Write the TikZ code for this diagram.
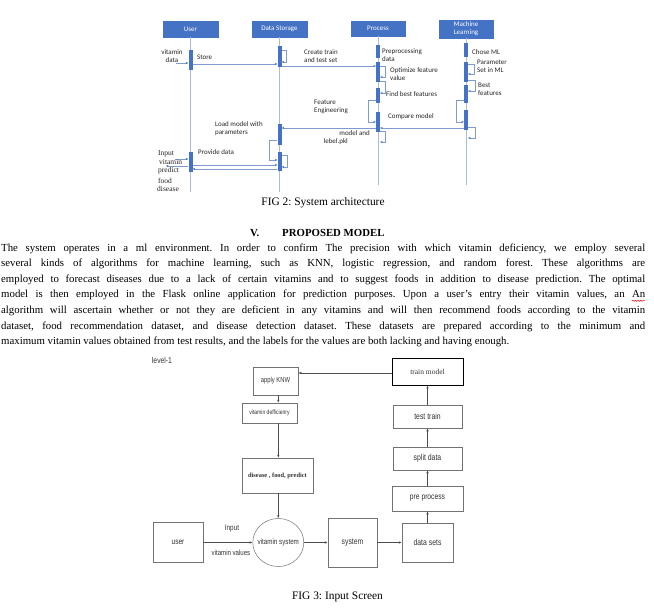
\documentclass[tikz,border=0pt]{standalone}
\usepackage{fontspec}
\setmainfont{Liberation Serif}
\newfontfamily\calfont{Carlito}
\newfontfamily\narfont[FakeStretch=0.8]{Liberation Sans}
\usetikzlibrary{arrows.meta,shapes.geometric,decorations.pathmorphing}
\definecolor{ofblue}{HTML}{4472C4}
\definecolor{lifec}{HTML}{A9BCDD}
\definecolor{arrc}{HTML}{7F9BD0}
\frenchspacing
\begin{document}
\begin{tikzpicture}[x=1pt,y=-1pt,
  hdr/.style={fill=ofblue, draw=ofblue, text=white, font=\calfont\fontsize{7}{8}\selectfont, inner sep=0, align=center, rectangle},
  bar/.style={fill=ofblue, draw=none, minimum width=4pt, inner sep=0, rectangle},
  life/.style={draw=lifec, line width=0.6pt},
  msg/.style={draw=arrc, line width=0.5pt, -{Stealth[length=2.5pt,width=2.2pt,color=ofblue]}},
  lab/.style={font=\calfont\fontsize{7}{8}\selectfont, align=left, inner sep=0, anchor=west, text=black!85},
  slab/.style={font=\fontsize{7.5}{8}\selectfont, inner sep=0, anchor=west, text=black!85},
  fbox/.style={draw=black!55, line width=0.5pt, rectangle, inner sep=0, text=black!80, font=\narfont\fontsize{8.5}{9}\selectfont},
  farr/.style={draw=black!70, line width=0.5pt, -{Latex[length=3pt,width=2.4pt]}},
  ftxt/.style={inner sep=0, text=black!80, font=\narfont\fontsize{8.5}{9}\selectfont},
  body/.style={anchor=base west, inner sep=0, font=\fontsize{10.8}{13}\selectfont},
  captxt/.style={inner sep=0, font=\fontsize{11.4}{13}\selectfont}
]
\fill[white] (0,0) rectangle (654,611);
\useasboundingbox (0,0) rectangle (654,611);

% ---------------- FIG 2: sequence diagram ----------------
\node[hdr, minimum width=55pt, minimum height=16pt] (hu) at (190.5,29) {User};
\node[hdr, minimum width=55pt, minimum height=16pt] (hd) at (279.5,29) {Data Storage};
\node[hdr, minimum width=54pt, minimum height=15pt] (hp) at (378,28.5) {Process};
\node[hdr, minimum width=54pt, minimum height=18pt] (hm) at (466,29) {Machine\\Learning};

\coordinate (eu) at (190.5,192);
\coordinate (ed) at (279.5,192);
\coordinate (ep) at (378,185);
\coordinate (em) at (466,185);
\draw[life] (hu.south) -- (eu);
\draw[life] (hd.south) -- (ed);
\draw[life] (hp.south) -- (ep);
\draw[life] (hm.south) -- (em);

\node[bar, minimum height=20pt] (uA) at (190.5,60) {};
\node[bar, minimum height=20pt] (uB) at (190.5,162) {};
\node[bar, minimum height=21pt] (dA) at (279.5,56.5) {};
\node[bar, minimum height=21pt] (dB) at (279.5,134.5) {};
\node[bar, minimum height=19pt] (dC) at (279.5,161.5) {};
\node[bar, minimum height=13pt] (pA) at (378,51.5) {};
\node[bar, minimum height=20pt] (pB) at (378,72) {};
\node[bar, minimum height=15pt] (pC) at (378,95.5) {};
\node[bar, minimum height=20pt] (pD) at (378,122) {};
\node[bar, minimum height=14pt] (mA) at (466,50) {};
\node[bar, minimum height=20pt] (mB) at (466,72) {};
\node[bar, minimum height=18pt] (mC) at (466,94) {};
\node[bar, minimum height=20pt] (mD) at (466,120) {};

\coordinate (vdin) at (176,63);
\draw[msg] (vdin) -- (uA.west |- vdin);
\draw[msg] (uA.east |- 0,64) -- (dA.west |- 0,64);
\draw[msg] (dA.east |- 0,50) -- ++(5,0) |- (dA.east |- 0,62);
\draw[msg] (dA.east |- 0,66) -- (pB.west |- 0,66);
\draw[msg] (pB.east |- 0,66) -- ++(5,0) |- (pB.east |- 0,77);
\draw[msg] (pB.east |- 0,81) -- ++(5,0) |- (pC.east |- 0,93);
\draw[msg] (mB.east |- 0,64) -- ++(6,0) |- (mB.east |- 0,74);
\draw[msg] (mB.east |- 0,80) -- ++(7,0) |- (mC.east |- 0,91);
\draw[msg] (mC.west |- 0,100) -- ++(-8,0) |- (mD.west |- 0,122);
\draw[msg] (pC.west |- 0,100) -- ++(-8,0) |- (pD.west |- 0,122);
\draw[msg] (mD.west |- 0,128) -- (pD.east |- 0,128);
\draw[msg] (mD.east |- 0,127) -- ++(7,0) |- (mD.east |- 0,138);
\draw[msg] (pD.east |- 0,131) -- ++(5,0) |- (pD.east |- 0,142);
\draw[msg] (pD.west |- 0,128) -- (dB.east |- 0,128);
\draw[msg] (dB.west |- 0,140) -- ++(-8,0) |- (dC.west |- 0,160);
\draw[msg] (dC.east |- 0,155) -- ++(6,0) |- (dC.east |- 0,167);
\draw[msg] (uB.east |- 0,165) -- (dC.west |- 0,165);
\draw[msg] (dC.west |- 0,169) -- (uB.east |- 0,169);
\coordinate (inpS) at (175,159);
\draw[msg] (inpS) -- (uB.west |- inpS);
\coordinate (predE) at (166,166);
\draw[msg] (uB.west |- predE) -- (predE);

\node[lab, anchor=center, align=center] (t1) at (172,56) {vitamin\\data};
\node[lab] (t2) at (197,57) {Store};
\node[lab] (t3) at (304,56) {Create train\\and test set};
\node[lab] (t4) at (382,55) {Preprocessing\\data};
\node[lab] (t5) at (390,74) {Optimize feature\\value};
\node[lab] (t6) at (386,94) {Find best features};
\node[lab] (t7) at (472,52) {Chose ML};
\node[lab] (t8) at (477,66) {Parameter\\Set in ML};
\node[lab] (t9) at (478,89) {Best\\features};
\node[lab] (t10) at (314,107) {Feature\\Engineering};
\node[lab] (t11) at (388,117) {Compare model};
\node[lab] (t12) at (215,129) {Load model with\\parameters};
\node[lab, anchor=east] (t13) at (370,133) {model and};
\node[lab, anchor=east] (t14) at (348,142) {lebel.pkl};
\node[lab] (t15) at (198,152) {Provide data};
\node[slab] (s1) at (158,154) {Input};
\node[slab] (s2) at (159,162) {vitamin};
\node[slab] (s3) at (158,171) {predict};
\node[slab] (s4) at (158,181) {food};
\node[slab] (s5) at (157,189) {disease};

\node[captxt] (cap2) at (323,203) {FIG 2: System architecture};

% ---------------- Section text ----------------
\node[body, font=\bfseries\fontsize{10.8}{13}\selectfont] (hV) at (250,236) {V.};
\node[body, font=\bfseries\fontsize{10.8}{13}\selectfont] (hT) at (282,236) {PROPOSED MODEL};
\node[body] (l1) at (1,251) {\makebox[644pt][s]{The system operates in a ml environment. In order to confirm The precision with which vitamin deficiency, we employ several}};
\node[body] (l2) at (1,266.6) {\makebox[644pt][s]{several kinds of algorithms for machine learning, such as KNN, logistic regression, and random forest. These algorithms are}};
\node[body] (l3) at (1,282.2) {\makebox[644pt][s]{employed to forecast diseases due to a lack of certain vitamins and to suggest foods in addition to disease prediction. The optimal}};
\node[body] (l4) at (1,297.8) {\makebox[644pt][s]{model is then employed in the Flask online application for prediction purposes. Upon a user's entry their vitamin values, an An}};
\node[body] (l5) at (1,313.4) {\makebox[644pt][s]{algorithm will ascertain whether or not they are deficient in any vitamins and will then recommend foods according to the vitamin}};
\node[body] (l6) at (1,329) {\makebox[644pt][s]{dataset, food recommendation dataset, and disease detection dataset. These datasets are prepared according to the minimum and}};
\node[body] (l7) at (1,344.6) {maximum vitamin values obtained from test results, and the labels for the values are both lacking and having enough.};
\coordinate (sqa) at (632,300.8);
\coordinate (sqb) at (645,300.8);
\draw[red, line width=0.5pt, decorate, decoration={snake, amplitude=0.6pt, segment length=2.6pt}] (sqa) -- (sqb);

% ---------------- FIG 3: flow chart ----------------
\node[ftxt] (lvl) at (162,360) {level-1};
\node[fbox, minimum width=45pt, minimum height=28pt, font=\narfont\fontsize{7.3}{8}\selectfont] (knw) at (275.5,381) {apply KNW};
\node[fbox, draw=black, line width=0.8pt, minimum width=71pt, minimum height=27pt, font=\fontsize{7.5}{8}\selectfont] (train) at (427.5,371.5) {train model};
\node[fbox, minimum width=55pt, minimum height=20pt, font=\narfont\fontsize{6.3}{7}\selectfont] (vd) at (269.5,413) {vitamin defficienry};
\node[fbox, minimum width=71pt, minimum height=35pt, font=\bfseries\fontsize{6.4}{7}\selectfont] (dis) at (277.5,475.5) {disease , food, predict};
\node[fbox, ellipse, minimum width=51pt, minimum height=48pt, font=\narfont\fontsize{7.8}{8}\selectfont] (vs) at (278.3,542.5) {\makebox[0pt]{vitamin system}};
\node[fbox, minimum width=50pt, minimum height=40pt, font=\narfont\fontsize{8.2}{9}\selectfont] (user) at (178,542.5) {user};
\node[fbox, minimum width=49pt, minimum height=49pt] (sys) at (352.5,542.5) {system};
\node[fbox, minimum width=51pt, minimum height=39pt, font=\narfont\fontsize{8.6}{10}\selectfont] (ds) at (427.5,542.5) {data sets};
\node[fbox, minimum width=71pt, minimum height=25pt, font=\narfont\fontsize{8.4}{10}\selectfont] (pp) at (427.5,498.5) {pre process};
\node[fbox, minimum width=69pt, minimum height=23pt, font=\narfont\fontsize{8.6}{10}\selectfont] (sd) at (427.5,458.5) {split data};
\node[fbox, minimum width=69pt, minimum height=23pt, font=\narfont\fontsize{8.6}{10}\selectfont] (tt) at (427.5,416.5) {test train};
\node[ftxt, font=\narfont\fontsize{7.9}{9}\selectfont] (inp) at (232,529) {Input};
\node[ftxt, font=\narfont\fontsize{7.6}{9}\selectfont] (vv) at (231,553) {vitamin values};

\draw[farr] (train.west |- 0,373) -- (knw.east |- 0,373);
\draw[farr] (knw.south -| vs.center) -- (vd.north -| vs.center);
\draw[farr] (vd.south -| vs.center) -- (dis.north -| vs.center);
\draw[farr] (dis.south -| vs.center) -- (vs.north);
\draw[farr] (user.east) -- (vs.west);
\draw[farr] (vs.east) -- (sys.west);
\draw[farr] (sys.east) -- (ds.west);
\draw[farr] (ds.north) -- (pp.south);
\draw[farr] (pp.north) -- (sd.south);
\draw[farr] (sd.north) -- (tt.south);
\draw[farr] (tt.north) -- (train.south);

\node[captxt] (cap3) at (337.5,597) {FIG 3: Input Screen};
\end{tikzpicture}
\end{document}
